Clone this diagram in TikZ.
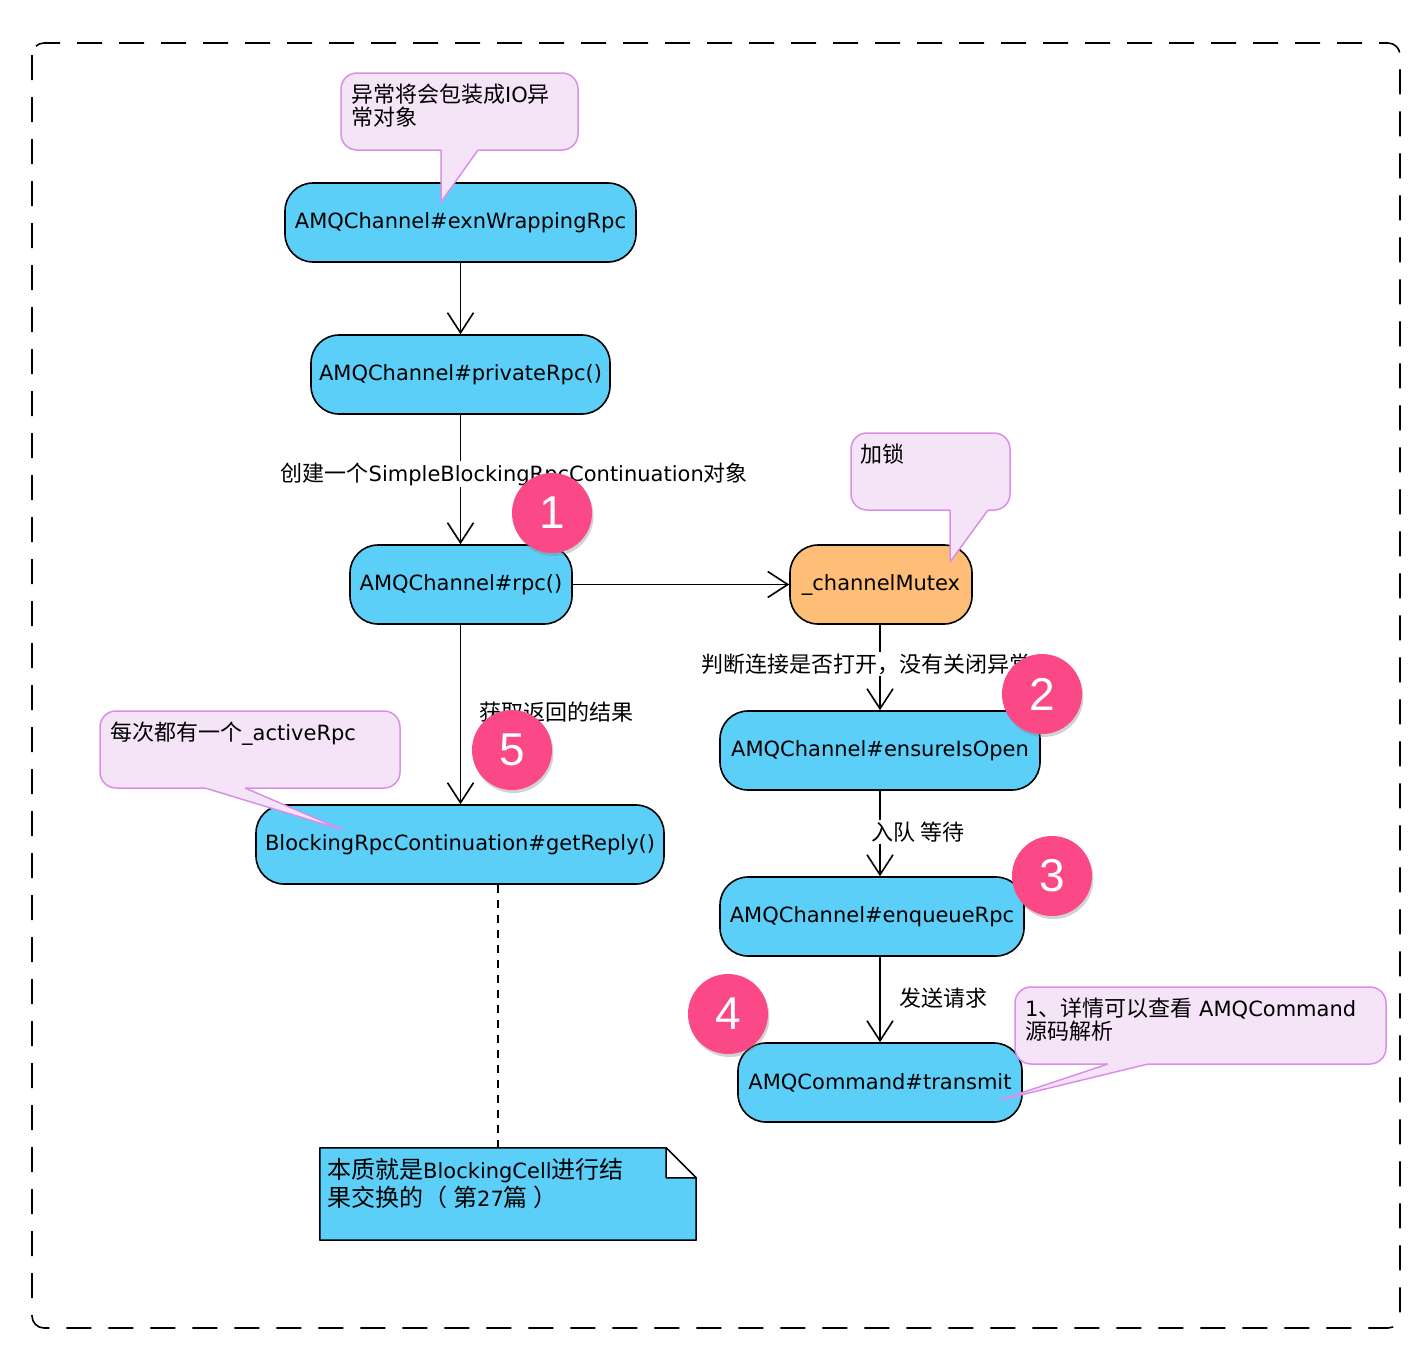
\documentclass[tikz,border=0pt]{standalone}
\usepackage{fontspec}
\setmainfont{DejaVu Sans}
\newfontfamily\cjkfont{Noto Sans CJK SC}
\newfontfamily\digitfont{Liberation Sans}
\newcommand\zhtxt[1]{{\cjkfont\fontsize{22}{23}\selectfont #1}}
\newcommand\zhtxtb[1]{{\cjkfont\fontsize{24}{28}\selectfont #1}}
\usetikzlibrary{arrows.meta,shadows}
\definecolor{procblue}{RGB}{91,207,248}
\definecolor{mutexor}{RGB}{255,190,120}
\definecolor{callfill}{RGB}{245,228,248}
\definecolor{callline}{RGB}{218,143,230}
\definecolor{badgepink}{RGB}{250,73,134}
\tikzset{
 proc/.style={draw=black, line width=1.6pt, fill=procblue, rounded corners=28pt, minimum height=79pt, inner sep=0pt, font=\fontsize{21}{24}\selectfont},
 flow/.style={draw=black, line width=1.6pt, -{Straight Barb[length=20pt,width=26pt]}},
 elabel/.style={fill=white, inner sep=1.5pt, anchor=west, font=\fontsize{21}{24}\selectfont},
 callbox/.style={draw=callline, line width=1.5pt, fill=callfill, rounded corners=16pt, inner sep=0pt, minimum height=77pt},
 callptr/.style={draw=callline, line width=1.5pt, line join=round},
 calltext/.style={anchor=north west, inner sep=0pt, align=left, font=\fontsize{21}{23}\selectfont},
 badgestyle/.style={circle, fill=badgepink, minimum size=80pt, inner sep=0pt, text=white, font=\digitfont\fontsize{46}{46}\selectfont, drop shadow={opacity=0.35, shadow xshift=1.5pt, shadow yshift=-3pt}},
}
\begin{document}
\begin{tikzpicture}[x=1pt,y=-1pt]
\useasboundingbox (0,0) rectangle (1416,1352);
\fill[white] (0,0) rectangle (1416,1352);
% frame
\draw[line width=1.6pt, dash pattern=on 25pt off 17pt, rounded corners=12pt] (32,43) rectangle (1400,1328);

% process nodes
\node[proc, minimum width=351pt] (exn) at (460.5,222.5) {AMQChannel\#exnWrappingRpc};
\node[proc, minimum width=299pt] (priv) at (460.5,374.5) {AMQChannel\#privateRpc()};
\node[proc, minimum width=222pt] (rpc) at (461,584.5) {AMQChannel\#rpc()};
\node[proc, fill=mutexor, minimum width=182pt] (mutex) at (881,584.5) {\_channelMutex};
\node[proc, minimum width=320pt] (ensure) at (880,750.5) {AMQChannel\#ensureIsOpen};
\node[proc, minimum width=304pt] (enq) at (872,916.5) {AMQChannel\#enqueueRpc};
\node[proc, minimum width=284pt] (trans) at (880,1082.5) {AMQCommand\#transmit};
\node[proc, minimum width=408pt] (getr) at (460,844.5) {BlockingRpcContinuation\#getReply()};

% connectors
\draw[flow] (exn.south) -- (exn.south |- priv.north);
\draw[flow] (priv.south) -- (priv.south |- rpc.north);
\draw[flow] (rpc.east) -- (mutex.west);
\draw[flow] (rpc.south -| priv.south) -- (priv.south |- getr.north);
\draw[flow] (mutex.south -| ensure.north) -- (ensure.north);
\draw[flow] (ensure.south) -- (ensure.south |- enq.north);
\draw[flow] (trans.north |- enq.south) -- (trans.north);

% edge labels
\node[elabel] (l1) at (279,474) {\zhtxt{创建一个}SimpleBlockingRpcContinuation\zhtxt{对象}};
\node[elabel] (l2) at (700,664) {\zhtxt{判断连接是否打开，没有关闭异常}};
\node[elabel] (l5) at (478,712) {\zhtxt{获取返回的结果}};
\node[elabel] (l3) at (870,832) {\zhtxt{入队 等待}};
\node[elabel] (l4) at (898,998) {\zhtxt{发送请求}};

% dashed link to note
\coordinate (nc) at (498,1148);
\draw[line width=1.5pt, dash pattern=on 8pt off 7pt] (getr.south -| nc) -- (nc);

% note
\node[minimum width=376pt, minimum height=92pt, inner sep=0pt] (note) at (508,1194) {};
\draw[line width=1.5pt, fill=procblue, line join=round] (note.north west) -- ([xshift=-30pt]note.north east) -- ([yshift=-30pt]note.north east) -- (note.south east) -- (note.south west) -- cycle;
\draw[line width=1.5pt, fill=white, line join=round] ([xshift=-30pt]note.north east) -- ([xshift=-30pt,yshift=-30pt]note.north east) -- ([yshift=-30pt]note.north east) -- cycle;
\node[calltext, font=\fontsize{21}{28}\selectfont] (notet) at (327,1158) {\zhtxtb{本质就是}BlockingCell\zhtxtb{进行结}\\\zhtxtb{果交换的（\kern6pt 第}27\zhtxtb{篇\kern6pt ）}};

% callouts
\node[callbox, minimum width=237pt] (c1) at (459.5,111.5) {};
\fill[callfill] (441,146) -- (441,202) -- (478,150) -- (478,146) -- cycle;
\draw[callptr] (441,150) -- (441,202) -- (478,150);
\node[calltext] (c1t) at (351,84) {\zhtxt{异常将会包装成}IO\zhtxt{异}\\\zhtxt{常对象}};

\node[callbox, minimum width=159pt] (c2) at (930.5,471.5) {};
\fill[callfill] (950,506) -- (950,562) -- (988,510) -- (988,506) -- cycle;
\draw[callptr] (950,510) -- (950,562) -- (988,510);
\node[calltext] (c2t) at (860,444) {\zhtxt{加锁}};

\node[callbox, minimum width=300pt] (c3) at (250,749.5) {};
\fill[callfill] (205,784) -- (205,788) -- (343,830) -- (245,788) -- (245,784) -- cycle;
\draw[callptr] (205,788) -- (343,830) -- (245,788);
\node[calltext] (c3t) at (110,722) {\zhtxt{每次都有一个}\_activeRpc};

\node[callbox, minimum width=371pt] (c4) at (1200.5,1025.5) {};
\fill[callfill] (1108,1060) -- (1108,1064) -- (1000,1100) -- (1148,1064) -- (1148,1060) -- cycle;
\draw[callptr] (1108,1064) -- (1000,1100) -- (1148,1064);
\node[calltext] (c4t) at (1025,998) {1\zhtxt{、详情可以查看} AMQCommand\\\zhtxt{源码解析}};

% badges
\node[badgestyle] (b1) at (552,513) {1};
\node[badgestyle] (b2) at (1042,694) {2};
\node[badgestyle] (b3) at (1052,876) {3};
\node[badgestyle] (b4) at (728,1014) {4};
\node[badgestyle] (b5) at (512,750) {5};
\end{tikzpicture}
\end{document}
